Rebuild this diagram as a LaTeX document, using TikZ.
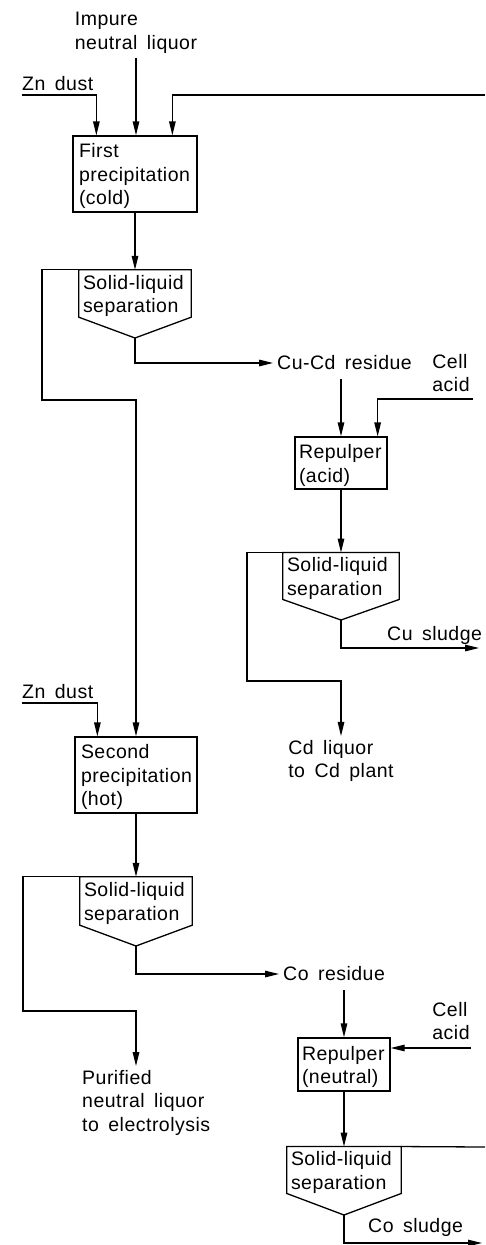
\documentclass[tikz,border=0pt]{standalone}
\usepackage{fontspec}
\setmainfont[LetterSpace=2.5,WordSpace=1.6]{Liberation Sans}
\usetikzlibrary{arrows.meta,calc}
\newcommand{\flowfont}{\fontsize{19.5}{23.5}\selectfont}
\newcommand{\fl}{\rule{0pt}{19pt}}
\newcommand{\solliq}{\mbox{Solid-liquid}}
\begin{document}
\begin{tikzpicture}[x=1pt,y=-1pt,
  ln/.style={line width=1.3pt,line join=miter},
  arr/.style={ln,-{Triangle[length=14pt,width=6.5pt]}},
  procbox/.style={draw,ln,rectangle,align=left,inner ysep=0pt,inner xsep=6pt,font=\flowfont},
  sepbox/.style={rectangle,align=left,inner ysep=0pt,inner xsep=4pt,font=\flowfont},
  lbl/.style={align=left,inner sep=4pt,font=\flowfont},
  plain/.style={inner sep=0pt,font=\flowfont}]
\useasboundingbox (0,0) rectangle (485,1245);

% ---------- first stage ----------
\node[lbl] (imp) at (136,33) {Impure\\neutral liquor};
\node[lbl,anchor=south west,inner xsep=0pt] (zn1) at (22,95) {Zn dust};
\node[procbox,text width=112pt,minimum height=76pt] (p1) at (135,174) {\fl First\\precipitation\\(cold)};
\coordinate (rec1) at (485,95);
\draw[arr] (imp.south) -- (imp.south |- p1.north);
\draw[arr] (zn1.south west) -| ($(p1.north west)+(24,0)$);
\draw[arr] (rec1) -| ($(p1.north west)+(100,0)$);

\node[sepbox,text width=104pt,minimum height=47pt] (s1) at (135,293.5) {\fl\solliq\\separation};
\coordinate (s1p) at (135,338);
\draw[ln] (s1.south west) -- (s1.north west) -- (s1.north east) -- (s1.south east) -- (s1p) -- cycle;
\draw[arr] (p1.south) -- (p1.south |- s1.north);

\node[lbl,anchor=west] (cucd) at (273,363) {Cu-Cd residue};
\draw[arr] (s1p) |- (cucd.west);

% ---------- copper/cadmium branch ----------
\node[lbl] (ca1) at (451,373) {Cell\\acid};
\coordinate (ca1a) at (473,399);
\node[procbox,inner xsep=4pt,text width=84pt,minimum height=52pt] (r1) at (341,463) {\fl Repulper\\(acid)};
\draw[arr,shorten <=5pt] (cucd.south -| r1.north) -- (r1.north);
\draw[arr] (ca1a) -| ($(r1.north east)+(-10,0)$);

\node[sepbox,text width=108pt,minimum height=46pt] (s2) at (341,576) {\fl\solliq\\separation};
\coordinate (s2p) at (341,620);
\draw[ln] (s2.south west) -- (s2.north west) -- (s2.north east) -- (s2.south east) -- (s2p) -- cycle;
\draw[arr] (r1.south) -- (r1.south |- s2.north);

\node[plain,anchor=base west] (cusl) at (387,640) {Cu sludge};
\coordinate (cus) at (479,648);
\draw[arr] (s2p) |- (cus);

\node[lbl] (cdl) at (341,761) {Cd liquor\\to Cd plant};
\coordinate (k2) at (247,681);
\draw[arr] (s2.north west) -| (k2) -| (cdl.north);

% ---------- second stage ----------
\node[lbl,anchor=south west,inner xsep=0pt] (zn2) at (22,703) {Zn dust};
\node[procbox,text width=110pt,minimum height=76pt] (p2) at (136,775) {\fl Second\\precipitation\\(hot)};
\coordinate (k1) at (42,400);
\draw[arr] (s1.north west) -| (k1) -| (p2.north);
\draw[arr] (zn2.south west) -| ($(p2.north west)+(23,0)$);

\node[sepbox,text width=104pt,minimum height=48pt] (s3) at (136,901) {\fl\solliq\\separation};
\coordinate (s3p) at (136,946);
\draw[ln] (s3.south west) -- (s3.north west) -- (s3.north east) -- (s3.south east) -- (s3p) -- cycle;
\draw[arr] (p2.south) -- (p2.south |- s3.north);

\node[lbl,anchor=north west] (pur) at (78,1066) {Purified\\neutral liquor\\to electrolysis};
\coordinate (k3) at (23,1011);
\draw[arr] (s3.north west) -| (k3) -| (pur.north -| s3p);

\node[lbl,anchor=west] (cores) at (279,974) {Co residue};
\draw[arr] (s3p) |- (cores.west);

% ---------- cobalt branch ----------
\node[lbl] (ca2) at (451,1021) {Cell\\acid};
\coordinate (ca2a) at (471,1048);
\node[procbox,inner xsep=4pt,text width=84pt,minimum height=53pt] (r2) at (344,1064.5) {\fl Repulper\\(neutral)};
\draw[arr,shorten <=5pt] (cores.south -| r2.north) -- (r2.north);
\draw[arr] (ca2a) -- (ca2a -| r2.east);

\node[sepbox,text width=106pt,minimum height=46pt] (s4) at (344,1170) {\fl\solliq\\separation};
\coordinate (s4p) at (344,1215);
\draw[ln] (s4.south west) -- (s4.north west) -- (s4.north east) -- (s4.south east) -- (s4p) -- cycle;
\draw[arr] (r2.south) -- (r2.south |- s4.north);
\coordinate (rec2) at (485,1147);
\draw[ln] (s4.north east) -- (rec2);

\node[plain,anchor=base west] (cosl) at (368,1232) {Co sludge};
\coordinate (cos) at (482,1243);
\draw[arr] (s4p) |- (cos);
\end{tikzpicture}
\end{document}
